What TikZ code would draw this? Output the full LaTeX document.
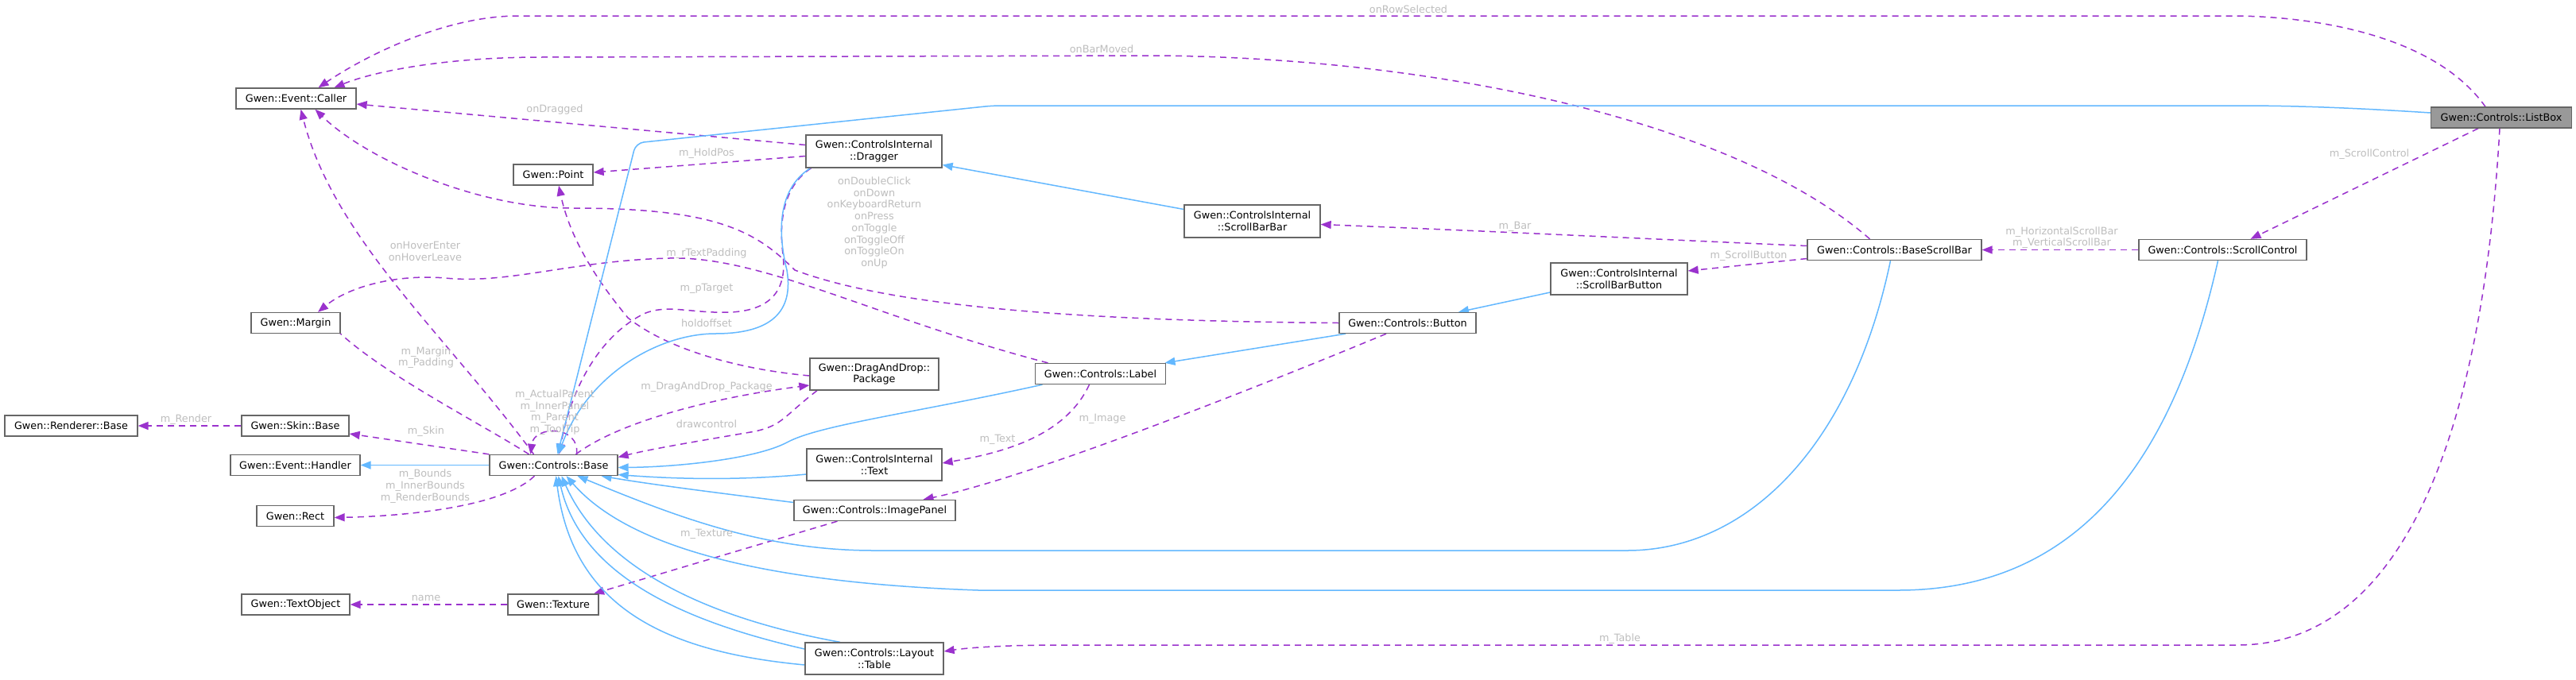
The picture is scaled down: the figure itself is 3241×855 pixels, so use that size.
\documentclass[tikz,border=0pt]{standalone}
\usepackage{fontspec}
\setmainfont{DejaVu Sans}
\usetikzlibrary{arrows.meta}
\definecolor{edgeuse}{HTML}{9A32CD}
\definecolor{edgeinh}{HTML}{63B8FF}
\definecolor{boxline}{HTML}{666666}
\definecolor{lbltext}{HTML}{BEBEBE}
\definecolor{curfill}{HTML}{999999}
\pgfdeclarelayer{bg}
\pgfdeclarelayer{edges}
\pgfsetlayers{bg,edges,main}
\begin{document}
\begin{tikzpicture}[x=1pt,y=-1pt,
 every node/.style={font=\fontsize{12.8}{14.7}\selectfont},
 cls/.style={draw=boxline, line width=1.3pt, fill=white, minimum height=26pt, inner sep=0pt, align=center},
 cls2/.style={cls, minimum height=41pt},
 cur/.style={cls, fill=curfill},
 use/.style={draw=edgeuse, line width=1.5pt, dash pattern=on 8pt off 6pt, -{Triangle[length=13pt,width=10pt]}},
 inh/.style={draw=edgeinh, line width=1.5pt, -{Triangle[length=13pt,width=10pt]}},
 lbl/.style={text=lbltext, inner sep=0pt, align=center}]
\useasboundingbox (0,0) rectangle (3241,855);
\begin{pgfonlayer}{bg}
\fill[white] (0,0) rectangle (3241,855);
\end{pgfonlayer}

% classes
\node[cur, minimum width=177pt] (ListBox) at (3147,148) {Gwen::Controls::ListBox};
\node[cls, minimum width=151pt] (Caller) at (372.5,124) {Gwen::Event::Caller};
\node[cls, minimum width=100pt] (Point) at (696,220) {Gwen::Point};
\node[cls, minimum width=112pt] (Margin) at (372,406.5) {Gwen::Margin};
\node[cls, minimum width=167pt] (Renderer) at (89.5,536) {Gwen::Renderer::Base};
\node[cls, minimum width=135pt] (Skin) at (371.5,536) {Gwen::Skin::Base};
\node[cls, minimum width=163pt] (Handler) at (371.5,585.5) {Gwen::Event::Handler};
\node[cls, minimum width=161pt] (Base) at (696.5,585.5) {Gwen::Controls::Base};
\node[cls, minimum width=97pt] (Rect) at (371.5,649.5) {Gwen::Rect};
\node[cls, minimum width=136pt] (TextObject) at (372,761) {Gwen::TextObject};
\node[cls, minimum width=114pt] (Texture) at (696,761) {Gwen::Texture};
\node[cls2, minimum width=171pt] (Dragger) at (1099.5,190.5) {Gwen::ControlsInternal\\::Dragger};
\node[cls2, minimum width=162pt, minimum height=40pt] (Package) at (1100,471) {Gwen::DragAndDrop::\\Package};
\node[cls2, minimum width=170pt, minimum height=40pt] (Text) at (1100,585) {Gwen::ControlsInternal\\::Text};
\node[cls, minimum width=203pt] (ImagePanel) at (1100.5,642.5) {Gwen::Controls::ImagePanel};
\node[cls2, minimum width=174pt, minimum height=40pt] (Table) at (1100,829) {Gwen::Controls::Layout\\::Table};
\node[cls, minimum width=164pt] (Label) at (1384.5,470.5) {Gwen::Controls::Label};
\node[cls, minimum width=172pt] (Button) at (1771,406.5) {Gwen::Controls::Button};
\node[cls2, minimum width=171pt] (ScrollBarBar) at (1575.5,278.5) {Gwen::ControlsInternal\\::ScrollBarBar};
\node[cls2, minimum width=172pt, minimum height=40pt] (ScrollBarButton) at (2037,351) {Gwen::ControlsInternal\\::ScrollBarButton};
\node[cls, minimum width=219pt] (BaseScrollBar) at (2383.5,314.5) {Gwen::Controls::BaseScrollBar};
\node[cls, minimum width=211pt] (ScrollControl) at (2796.5,314.5) {Gwen::Controls::ScrollControl};

% labels
\node[lbl] (lRow) at (1772,12) {onRowSelected};
\node[lbl] (lBarMoved) at (1386,62) {onBarMoved};
\node[lbl] (lDragged) at (698,138) {onDragged};
\node[lbl] (lHoldPos) at (889,193) {m\_HoldPos};
\node[lbl] (lButtonEv) at (1100,280.5) {onDoubleClick\\onDown\\onKeyboardReturn\\onPress\\onToggle\\onToggleOff\\onToggleOn\\onUp};
\node[lbl] (lHover) at (535,316.5) {onHoverEnter\\onHoverLeave};
\node[lbl] (lTextPad) at (889,319) {m\_rTextPadding};
\node[lbl] (lTarget) at (889,363) {m\_pTarget};
\node[lbl] (lHoldOff) at (889,407) {holdoffset};
\node[lbl] (lMargin) at (536,450) {m\_Margin\\m\_Padding};
\node[lbl] (lRender) at (234,528) {m\_Render};
\node[lbl] (lSkin) at (536,543) {m\_Skin};
\node[lbl] (lBounds) at (535,612) {m\_Bounds\\m\_InnerBounds\\m\_RenderBounds};
\node[lbl] (lParent) at (698,519) {m\_ActualParent\\m\_InnerPanel\\m\_Parent\\m\_ToolTip};
\node[lbl] (lPkg) at (889,487) {m\_DragAndDrop\_Package};
\node[lbl] (lDraw) at (889,534) {drawcontrol};
\node[lbl] (lTexture) at (889,672) {m\_Texture};
\node[lbl] (lName) at (536,753) {name};
\node[lbl] (lText) at (1255,553) {m\_Text};
\node[lbl] (lImage) at (1387,527) {m\_Image};
\node[lbl] (lTable) at (2038,804) {m\_Table};
\node[lbl] (lScrollCtl) at (2981,194) {m\_ScrollControl};
\node[lbl] (lHV) at (2594,299) {m\_HorizontalScrollBar\\m\_VerticalScrollBar};
\node[lbl] (lScrollBtn) at (2200,322) {m\_ScrollButton};
\node[lbl] (lBar) at (1906,285) {m\_Bar};

\begin{pgfonlayer}{edges}
% usage edges
\draw[use] ([xshift=-20pt]ListBox.north) .. controls (3060,40) and (2900,20) .. (2807,20) -- (652,20) .. controls (560,20) and (460,70) .. ([xshift=28pt]Caller.north);
\draw[use] ([xshift=-31pt]BaseScrollBar.north) .. controls (2180,150) and (1800,72) .. (1450,70) -- (680,72) .. controls (560,72) and (470,90) .. ([xshift=48pt]Caller.north);
\draw[use] ([yshift=8pt]Dragger.west) -- ([yshift=-7pt]Caller.east);
\draw[use] ([yshift=-6pt]Dragger.west) -- ([yshift=3pt]Point.east);
\draw[use] (Button.west) .. controls (1350,404) and (1120,385) .. (1000,340) .. controls (950,290) and (900,262) .. (720,262) .. controls (600,262) and (460,200) .. ([xshift=24pt]Caller.south);
\draw[use] ([xshift=-25pt]Base.north) .. controls (560,420) and (420,300) .. ([xshift=6pt]Caller.south);
\draw[use] ([xshift=-31pt]Base.north) .. controls (600,530) and (460,460) .. ([xshift=31pt]Margin.north);
\draw[use] ([xshift=-66pt]Label.north) .. controls (1100,400) and (960,322) .. (842,325) .. controls (720,328) and (640,358) .. (560,350) .. controls (500,345) and (440,360) .. ([xshift=28pt]Margin.north);
\draw[use] ([xshift=29pt]Base.north) .. controls (730,535) and (672,535) .. ([xshift=-29pt]Base.north);
\draw[use] (Base.north west) -- ([yshift=-10pt]Skin.east);
\draw[use] (Skin.west) -- (Renderer.east);
\draw[use] ([xshift=-24pt]Base.south) .. controls (630,640) and (500,650) .. ([yshift=-2pt]Rect.east);
\draw[use] ([xshift=28pt]Base.north) .. controls (780,530) and (900,500) .. ([yshift=-14pt]Package.west);
\draw[use] ([xshift=-72pt]Package.south) .. controls (985,525) and (985,535) .. (950,543) .. controls (880,555) and (820,565) .. ([yshift=10pt]Base.east);
\draw[use] ([yshift=-2pt]Package.west) .. controls (930,465) and (840,440) .. (790,400) .. controls (740,340) and (715,290) .. ([xshift=7pt]Point.south);
\draw[use] ([xshift=-79pt]Dragger.south) .. controls (985,235) and (980,280) .. (985,320) .. controls (990,360) and (975,390) .. (920,393) .. controls (870,395) and (840,382) .. (810,395) .. controls (760,420) and (720,480) .. ([xshift=7pt]Base.north);
\draw[use] ([xshift=-14pt]Label.south) .. controls (1340,550) and (1260,570) .. ([yshift=2pt]Text.east);
\draw[use] ([xshift=-27pt]Button.south) .. controls (1600,480) and (1300,600) .. ([xshift=61pt]ImagePanel.north);
\draw[use] ([xshift=-47pt]ImagePanel.south) -- ([xshift=51pt]Texture.north);
\draw[use] (Texture.west) -- (TextObject.east);
\draw[use] ([xshift=-2pt]ListBox.south) .. controls (3120,600) and (3000,812) .. (2815,812) -- (1330,812) .. controls (1270,812) and (1220,815) .. ([yshift=9pt]Table.east);
\draw[use] ([xshift=-29pt]ListBox.south) -- ([xshift=35pt]ScrollControl.north);
\draw[use] (ScrollControl.west) -- (BaseScrollBar.east);
\draw[use] ([yshift=5pt]BaseScrollBar.west) .. controls (2100,302) and (1900,292) .. ([yshift=-4pt]ScrollBarBar.east);
\draw[use] ([yshift=-11pt]BaseScrollBar.west) -- ([yshift=10pt]ScrollBarButton.east);

% inheritance edges
\draw[inh] (Base.west) -- (Handler.east);
\draw[inh] ([xshift=-80pt]Dragger.south) .. controls (975,240) and (980,300) .. (990,340) .. controls (1000,400) and (960,420) .. (900,420) .. controls (830,420) and (740,470) .. ([xshift=6pt]Base.north);
\draw[inh, rounded corners=10pt] ([yshift=6pt]ListBox.west) .. controls (2950,135) and (2880,133) .. (2807,133) -- (1249,133) -- (800,180) -- ([xshift=5pt]Base.north);
\draw[inh] ([yshift=15pt]ScrollBarBar.west) -- ([yshift=-17pt]Dragger.east);
\draw[inh] ([yshift=-17pt]ScrollBarButton.west) -- ([xshift=64pt]Button.north);
\draw[inh] ([xshift=-78pt]Button.south) -- ([xshift=81pt]Label.north);
\draw[inh] ([xshift=-73pt]Label.south) .. controls (1150,520) and (1030,535) .. (990,557) .. controls (950,578) and (850,588) .. ([yshift=-3pt]Base.east);
\draw[inh] ([yshift=-12pt]Text.west) .. controls (930,605) and (850,603) .. ([yshift=-12pt]Base.east);
\draw[inh] ([yshift=10pt]ImagePanel.west) .. controls (900,620) and (820,610) .. ([xshift=60pt]Base.south);
\draw[inh] ([xshift=-5pt]BaseScrollBar.south) .. controls (2330,560) and (2200,693) .. (2047,693) -- (1100,693) .. controls (960,693) and (850,650) .. ([xshift=30pt]Base.south);
\draw[inh] ([xshift=-6pt]ScrollControl.south) .. controls (2730,600) and (2600,743) .. (2388,743) -- (1231,743) .. controls (1000,735) and (800,700) .. ([xshift=16pt]Base.south);
\draw[inh] ([xshift=-43pt]Table.north) .. controls (900,780) and (760,720) .. ([xshift=10pt]Base.south);
\draw[inh] ([yshift=12pt]Table.west) .. controls (850,780) and (730,720) .. ([xshift=6pt]Base.south);
\draw[inh] ([yshift=-8pt]Table.west) .. controls (830,820) and (720,760) .. ([xshift=3pt]Base.south);
\end{pgfonlayer}
\end{tikzpicture}
\end{document}
